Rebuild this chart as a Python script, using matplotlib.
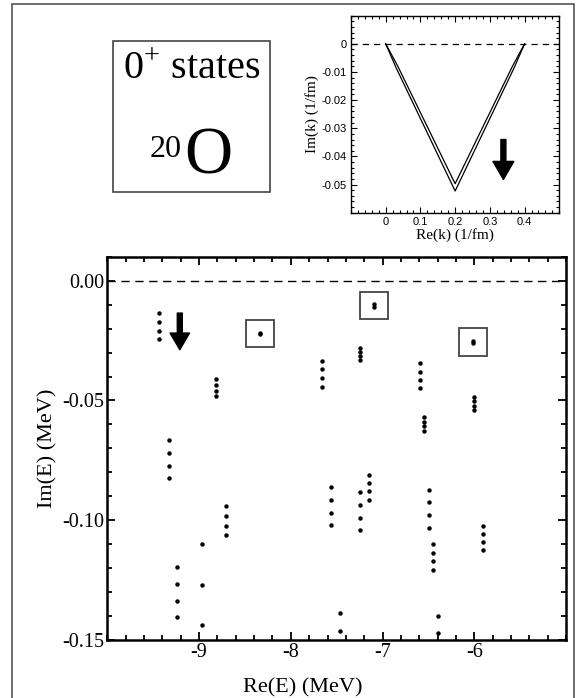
import numpy as np
import matplotlib
matplotlib.use('Agg')
import matplotlib.pyplot as plt
from matplotlib.patches import Rectangle
from matplotlib.ticker import MultipleLocator

plt.rcParams['font.family'] = 'Liberation Serif'
plt.rcParams['mathtext.fontset'] = 'custom'
plt.rcParams['mathtext.rm'] = 'Liberation Serif'

# resonance columns: Re(E) and Im(E) values (MeV)
re_cols = [-9.433, -9.331, -9.236, -8.97, -8.81, -8.71, -7.66, -7.563, -7.466,
           -7.25, -7.25, -7.148, -6.59, -6.547, -6.49, -6.455, -6.394, -6.007, -5.905]
im_cols = [[-0.0136, -0.0174, -0.0210, -0.0245],
           [-0.0667, -0.0720, -0.0772, -0.0825],
           [-0.1194, -0.1265, -0.1336, -0.1405],
           [-0.1101, -0.1270, -0.1439],
           [-0.0411, -0.0436, -0.0460, -0.0483],
           [-0.0939, -0.0982, -0.1024, -0.1063],
           [-0.0335, -0.0370, -0.0405, -0.0442],
           [-0.0863, -0.0915, -0.0968, -0.1021],
           [-0.1389, -0.1461],
           [-0.0282, -0.0299, -0.0315, -0.0333],
           [-0.0882, -0.0935, -0.0989, -0.1042],
           [-0.0811, -0.0845, -0.0879, -0.0915],
           [-0.0344, -0.0379, -0.0414, -0.0449],
           [-0.0569, -0.0588, -0.0607, -0.0626],
           [-0.0872, -0.0925, -0.0978, -0.1032],
           [-0.1101, -0.1136, -0.1171, -0.1207],
           [-0.1400, -0.1471],
           [-0.0486, -0.0504, -0.0522, -0.0540],
           [-0.1022, -0.1056, -0.1089, -0.1125]]

# boxed (physical) states
re_box = [-8.337, -7.098, -6.014]
im_box = [[-0.0218, -0.0222], [-0.0098, -0.0110], [-0.0252, -0.0262]]

# inset contour in complex k plane
rek_outer = [0.0, 0.03, 0.2, 0.37, 0.4]
imk_outer = [0.0, -0.0085, -0.0523, -0.0085, 0.0]
rek_inner = [0.0, 0.035, 0.2, 0.365, 0.4]
imk_inner = [0.0, -0.0080, -0.0497, -0.0080, 0.0]

fig = plt.figure(figsize=(5.77, 6.98), dpi=100)

# outer frame
fig.add_artist(Rectangle((12 / 577, -0.01), 562 / 577, 1.01 - 4 / 698,
                         transform=fig.transFigure, fill=False,
                         edgecolor='#555555', linewidth=1.2))

# ---- main axes ----
ax = fig.add_axes([0.186, 0.0831, 0.795, 0.549])
for x, ys in zip(re_cols, im_cols):
    ax.plot([x] * len(ys), ys, 'o', color='black', markersize=3.2, markeredgewidth=0)
for x, ys in zip(re_box, im_box):
    ax.plot([x] * len(ys), ys, 'o', color='black', markersize=3.2, markeredgewidth=0)
    yc = np.mean(ys)
    ax.add_patch(Rectangle((x - 0.152, yc - 0.0057), 0.305, 0.0115,
                           fill=False, edgecolor='#444444', linewidth=1.3))
ax.axhline(0, color='black', linestyle=(0, (6, 4)), linewidth=1.0)
ax.annotate('', xy=(-9.21, -0.0288), xytext=(-9.21, -0.0135),
            arrowprops=dict(facecolor='black', edgecolor='black',
                            width=3.6, headwidth=14, headlength=12, shrink=0))
ax.set_xlim(-10, -5)
ax.set_ylim(-0.15, 0.01)
ax.xaxis.set_minor_locator(MultipleLocator(0.2))
ax.yaxis.set_minor_locator(MultipleLocator(0.01))
ax.set_xticks([-9, -8, -7, -6])
ax.set_xticklabels(['-9', '-8', '-7', '-6'])
ax.set_yticks([0.0, -0.05, -0.10, -0.15])
ax.set_yticklabels(['0.00', '-0.05', '-0.10', '-0.15'])
ax.tick_params(which='both', direction='in', top=True, right=True, width=1.3,
               labelsize=14.5, pad=2)
ax.tick_params(which='major', length=6)
ax.tick_params(which='minor', length=3.5)
for s in ax.spines.values():
    s.set_linewidth(1.8)
ax.set_xlabel('Re(E) (MeV)', fontsize=16)
ax.xaxis.set_label_coords(0.425, -0.1)
ax.set_ylabel('Im(E) (MeV)', fontsize=16, labelpad=4)

# ---- inset ----
ins = fig.add_axes([0.6083, 0.6953, 0.361, 0.2822])
ins.plot(rek_outer, imk_outer, color='black', linewidth=0.9)
ins.plot(rek_inner, imk_inner, color='black', linewidth=0.9)
ins.axhline(0, color='black', linestyle=(0, (5, 4)), linewidth=0.9)
ins.annotate('', xy=(0.339, -0.0482), xytext=(0.339, -0.034),
             arrowprops=dict(facecolor='black', edgecolor='black',
                             width=3.6, headwidth=15, headlength=13, shrink=0))
ins.set_xlim(-0.1, 0.5)
ins.set_ylim(-0.06, 0.01)
ins.set_xticks([0, 0.1, 0.2, 0.3, 0.4])
ins.set_xticklabels(['0', '0.1', '0.2', '0.3', '0.4'], family='Liberation Sans')
ins.set_yticks([0, -0.01, -0.02, -0.03, -0.04, -0.05])
ins.set_yticklabels(['0', '-0.01', '-0.02', '-0.03', '-0.04', '-0.05'],
                    family='Liberation Sans')
ins.xaxis.set_minor_locator(MultipleLocator(0.02))
ins.yaxis.set_minor_locator(MultipleLocator(0.002))
ins.tick_params(which='both', direction='in', top=True, right=True, width=0.8,
                labelsize=8, pad=3)
ins.tick_params(which='major', length=4)
ins.tick_params(which='minor', length=2)
for s in ins.spines.values():
    s.set_linewidth(1.0)
ins.set_xlabel('Re(k) (1/fm)', fontsize=11, labelpad=1)
ins.set_ylabel('Im(k) (1/fm)', fontsize=11, labelpad=2)

# ---- label box ----
fig.add_artist(Rectangle((113.3 / 577, 1 - 192.3 / 698), 156.2 / 577, 151.3 / 698,
                         transform=fig.transFigure, fill=False,
                         edgecolor='#444444', linewidth=1.2))
fig.text(191.5 / 577, 1 - 79 / 698, r'0$^{+}$ states', fontsize=29,
         ha='center', va='baseline')
fig.text(182 / 577, 1 - 157 / 698, '20', fontsize=23, ha='right', va='baseline')
fig.text(184 / 577, 1 - 173 / 698, 'O', fontsize=48, ha='left', va='baseline')

fig.savefig('out.png', dpi=100)
